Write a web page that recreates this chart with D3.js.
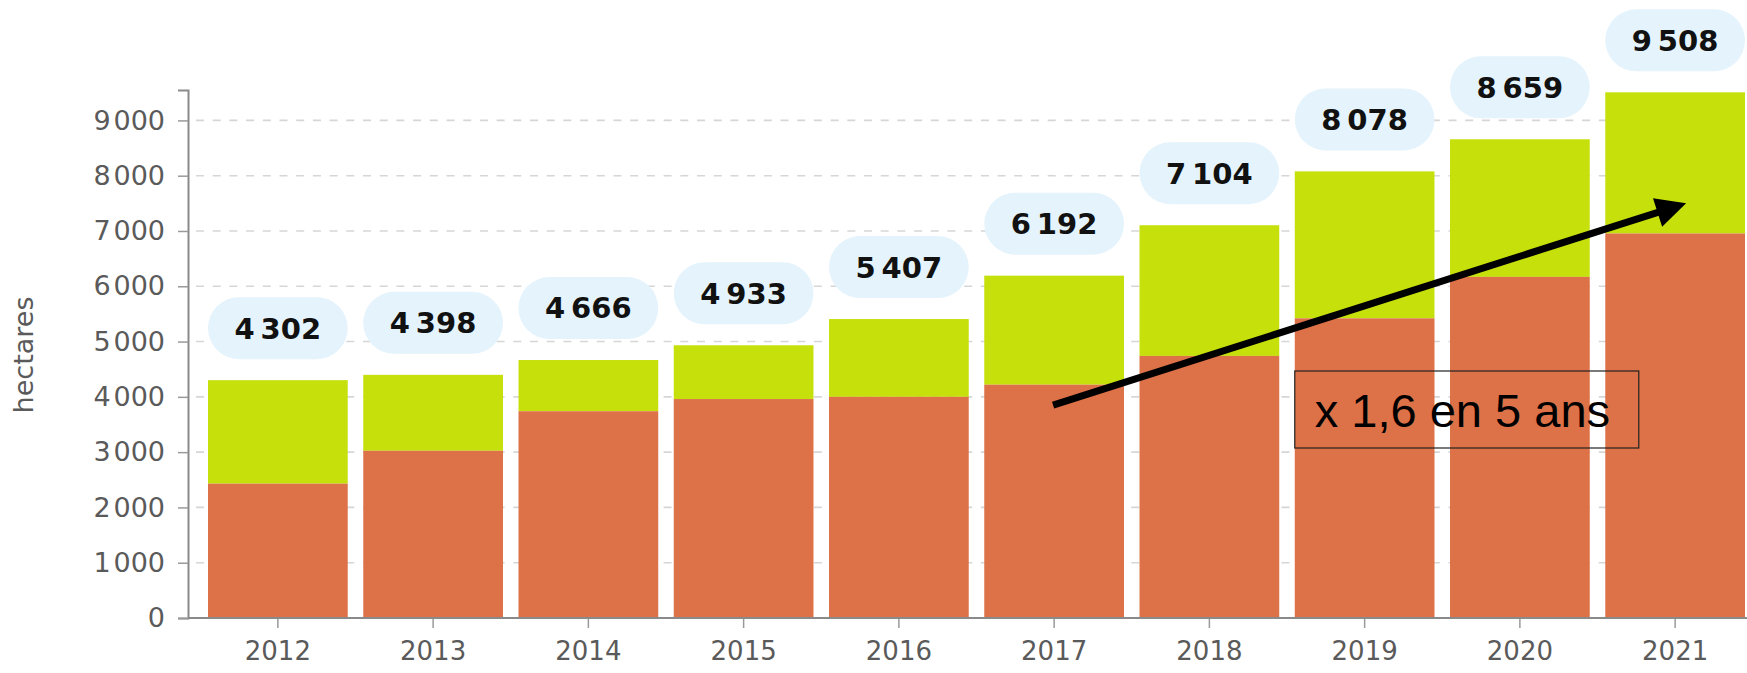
<!DOCTYPE html>
<html>
<head>
<meta charset="utf-8">
<script src="https://cdn.jsdelivr.net/npm/d3@7/dist/d3.min.js"></script>
<style>
  html, body { margin: 0; padding: 0; background: #fff; }
  svg { display: block; }
</style>
</head>
<body>
<svg id="chart" width="1747" height="673"></svg>
<script>
// ---- data ----
const years = ["2012","2013","2014","2015","2016","2017","2018","2019","2020","2021"];
const totals = [4302, 4398, 4666, 4933, 5407, 6192, 7104, 8078, 8659, 9508];
const orangePart = [2430, 3025, 3740, 3960, 4000, 4220, 4740, 5420, 6170, 6955];
const yTicks = [0, 1000, 2000, 3000, 4000, 5000, 6000, 7000, 8000, 9000];
const yTitle = "hectares";
const noteText = "x 1,6 en 5 ans";
const arrowFrom = { year: "2017", value: 3850 };
const arrowTo = { year: "2021", value: 7500 };

// ---- layout ----
const W = 1747, H = 673;
const axisX = 188, baseY = 618, topY = 90;
const svg = d3.select("#chart");

const x = d3.scaleBand().domain(years).range([208, 1745]).paddingInner(0.1).paddingOuter(0);
const y = d3.scaleLinear().domain([0, 9550]).range([baseY, topY]);
const bw = x.bandwidth();

const fmtAxis = v => { const s = String(v); return s.length > 3 ? s.slice(0, -3) + "\u200A" + s.slice(-3) : s; };
const fmtLabel = v => { const s = String(v); return s.length > 3 ? s.slice(0, -3) + "\u2009" + s.slice(-3) : s; };

// grid
svg.append("g").selectAll("line").data(yTicks.filter(d => d > 0)).join("line")
  .attr("x1", axisX + 8).attr("x2", W)
  .attr("y1", d => y(d)).attr("y2", d => y(d))
  .attr("stroke", "#d6d6d6").attr("stroke-width", 1.6)
  .attr("stroke-dasharray", "8,8.7");

// bars
const rows = years.map((yr, i) => ({ year: yr, total: totals[i], low: orangePart[i] }));
const bars = svg.append("g");
bars.selectAll("rect.top").data(rows).join("rect").attr("class", "top")
  .attr("x", d => x(d.year)).attr("width", bw)
  .attr("y", d => y(d.total)).attr("height", d => y(d.low) - y(d.total))
  .attr("fill", "#c6e00c");
bars.selectAll("rect.low").data(rows).join("rect").attr("class", "low")
  .attr("x", d => x(d.year)).attr("width", bw)
  .attr("y", d => y(d.low)).attr("height", d => y(0) - y(d.low))
  .attr("fill", "#dd7147");

// axes
const yAxis = svg.append("g").attr("transform", `translate(${axisX},0)`)
  .call(d3.axisLeft(y).tickValues(yTicks).tickSize(10).tickPadding(13).tickFormat(fmtAxis));
yAxis.select(".domain").attr("stroke", "#8a8a8a").attr("stroke-width", 2);
yAxis.selectAll(".tick line").attr("stroke", "#9a9a9a").attr("stroke-width", 1.5);
yAxis.selectAll("text").attr("font-family", "DejaVu Sans").attr("font-size", 27).attr("fill", "#5a5a5a");

const xAxis = svg.append("g").attr("transform", `translate(0,${baseY})`)
  .call(d3.axisBottom(x).tickSize(10).tickPadding(14));
xAxis.select(".domain").remove();
xAxis.selectAll(".tick line").attr("stroke", "#9a9a9a").attr("stroke-width", 1.5);
xAxis.selectAll("text").attr("font-family", "DejaVu Sans").attr("font-size", 26).attr("fill", "#5a5a5a");
svg.append("line").attr("x1", axisX).attr("x2", W).attr("y1", baseY).attr("y2", baseY)
  .attr("stroke", "#8a8a8a").attr("stroke-width", 2);

svg.append("text")
  .attr("transform", `translate(33,355) rotate(-90)`)
  .attr("text-anchor", "middle")
  .attr("font-family", "DejaVu Sans").attr("font-size", 27).attr("fill", "#5a5a5a")
  .text(yTitle);

// value pills
const pills = svg.append("g").selectAll("g").data(rows).join("g")
  .attr("transform", d => `translate(${x(d.year)},${y(d.total)})`);
pills.append("rect").attr("x", 0).attr("width", bw)
  .attr("y", -83).attr("height", 62).attr("rx", 31).attr("ry", 31)
  .attr("fill", "#e4f3fc");
pills.append("text").attr("x", bw / 2).attr("y", -52).attr("dy", "0.36em")
  .attr("text-anchor", "middle")
  .attr("font-family", "DejaVu Sans").attr("font-weight", "bold").attr("font-size", 29)
  .attr("fill", "#111").text(d => fmtLabel(d.total));

// arrow annotation
const x0 = x(arrowFrom.year) + bw / 2 - 1, y0 = y(arrowFrom.value);
const x1 = x(arrowTo.year) + bw / 2 + 11, y1 = y(arrowTo.value);
const len = Math.hypot(x1 - x0, y1 - y0);
const ux = (x1 - x0) / len, uy = (y1 - y0) / len;
const headL = 30, headW = 15;
const bx = x1 - ux * headL, by = y1 - uy * headL;
svg.append("line").attr("x1", x0).attr("y1", y0).attr("x2", bx + ux * 2).attr("y2", by + uy * 2)
  .attr("stroke", "#000").attr("stroke-width", 7);
svg.append("path")
  .attr("d", `M${x1},${y1} L${bx - uy * headW},${by + ux * headW} L${bx + uy * headW},${by - ux * headW} Z`)
  .attr("fill", "#000");

// note box
const boxX = x("2019"), boxY = 371, boxW = 344, boxH = 77;
svg.append("rect").attr("x", boxX).attr("y", boxY).attr("width", boxW).attr("height", boxH)
  .attr("fill", "none").attr("stroke", "#222").attr("stroke-width", 1.2);
svg.append("text").attr("x", boxX + 20).attr("y", 427)
  .attr("font-family", "Liberation Sans, Arial").attr("font-size", 47).attr("fill", "#000")
  .text(noteText);
</script>
</body>
</html>
